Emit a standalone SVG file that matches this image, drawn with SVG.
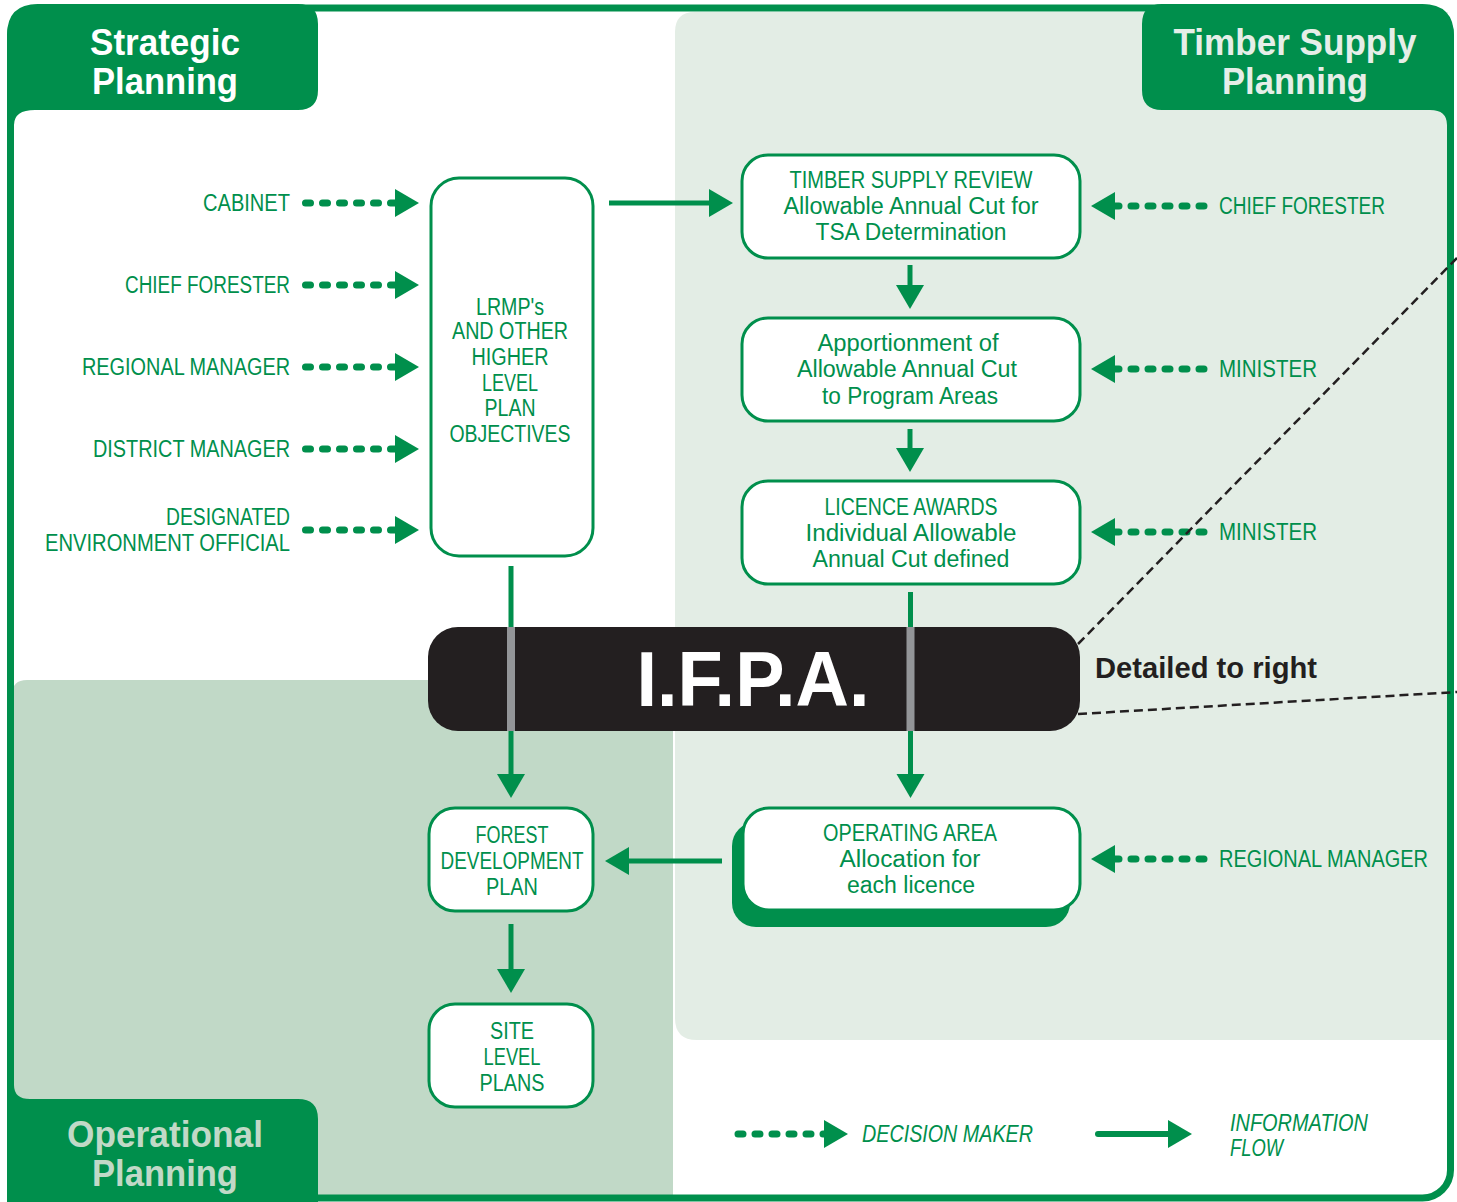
<svg xmlns="http://www.w3.org/2000/svg" width="1457" height="1202" viewBox="0 0 1457 1202">
<defs>
<style>
.g{fill:#008f4c}
.box{fill:#fff;stroke:#008f4c;stroke-width:3}
.tx{font-family:"Liberation Sans",Arial,sans-serif;font-size:23px;fill:#008f4c}
.c{text-anchor:middle}
.e{text-anchor:end}
.s{text-anchor:start}
.it{font-style:italic}
.tab{font-family:"Liberation Sans",Arial,sans-serif;font-size:37px;font-weight:bold;text-anchor:middle}
.dot{fill:none;stroke:#008f4c;stroke-width:7;stroke-linecap:round;stroke-dasharray:5 12}
.sol{fill:none;stroke:#008f4c;stroke-width:5}
.grey{stroke:#939598;stroke-width:8}
.dash{fill:none;stroke:#231f20;stroke-width:2.5;stroke-dasharray:9 5}
</style>
<marker id="ah" markerUnits="userSpaceOnUse" markerWidth="24" markerHeight="28" refX="0" refY="14" orient="auto" overflow="visible">
<path d="M0,0 L24,14 L0,28 z" fill="#008f4c"/>
</marker>
</defs>
<rect width="1457" height="1202" fill="#fff"/>
<!-- regions -->
<g id="regions">
<path d="M695,12 H1448 V1040 H697 Q675,1040 675,1018 V32 Q675,12 695,12 Z" fill="#e3ede5"/>
<path d="M12,695 Q12,680 27,680 H673 V1199 H12 Z" fill="#c1d9c7"/>
</g>
<!-- frame -->
<rect x="10.5" y="8" width="1440" height="1190" rx="28" fill="none" stroke="#008f4c" stroke-width="7"/>
<!-- tabs -->
<g id="tab-strategic">
<path d="M7,35 Q7,4 38,4 H298 Q318,4 318,24 V90 Q318,110 298,110 H35 Q14,110 14,125 H7 Z" class="g"/>
<text class="tab" x="165" y="55" fill="#fff" textLength="150" lengthAdjust="spacingAndGlyphs">Strategic</text>
<text class="tab" x="165" y="94" fill="#fff" textLength="146" lengthAdjust="spacingAndGlyphs">Planning</text>
</g>
<g id="tab-timber">
<path d="M1162,4 H1422 Q1454,4 1454,36 V125 H1447 Q1447,110 1430,110 H1162 Q1142,110 1142,90 V24 Q1142,4 1162,4 Z" class="g"/>
<text class="tab" x="1295" y="55" fill="#e6eee8" textLength="243" lengthAdjust="spacingAndGlyphs">Timber Supply</text>
<text class="tab" x="1295" y="94" fill="#e6eee8" textLength="146" lengthAdjust="spacingAndGlyphs">Planning</text>
</g>
<g id="tab-operational">
<path d="M7,1085 H14 Q14,1099 30,1099 H298 Q318,1099 318,1119 V1202 H7 Z" class="g"/>
<text class="tab" x="165" y="1147" fill="#c1d9c7" textLength="196" lengthAdjust="spacingAndGlyphs">Operational</text>
<text class="tab" x="165" y="1186" fill="#c1d9c7" textLength="146" lengthAdjust="spacingAndGlyphs">Planning</text>
</g>
<!-- IFPA -->
<g id="ifpa">
<rect x="428" y="627" width="652" height="104" rx="30" fill="#231f20"/>
<text x="753" y="706" font-family="'Liberation Sans',Arial,sans-serif" font-size="78" font-weight="bold" fill="#fff" text-anchor="middle" textLength="233" lengthAdjust="spacingAndGlyphs">I.F.P.A.</text>
</g>
<!-- connectors -->
<g id="connectors">
<line class="sol" x1="609" y1="203" x2="709" y2="203" marker-end="url(#ah)"/>
<line class="sol" x1="910" y1="265" x2="910" y2="285" marker-end="url(#ah)"/>
<line class="sol" x1="910" y1="429" x2="910" y2="448" marker-end="url(#ah)"/>
<line class="sol" x1="910.5" y1="592" x2="910.5" y2="774" marker-end="url(#ah)"/>
<line class="sol" x1="511" y1="566" x2="511" y2="774" marker-end="url(#ah)"/>
<line class="sol" x1="722" y1="861" x2="629" y2="861" marker-end="url(#ah)"/>
<line class="sol" x1="511" y1="924" x2="511" y2="969" marker-end="url(#ah)"/>
<line class="grey" x1="511" y1="627" x2="511" y2="731"/>
<line class="grey" x1="910.5" y1="627" x2="910.5" y2="731"/>
<line class="dot" x1="305.5" y1="203" x2="395" y2="203" marker-end="url(#ah)"/>
<line class="dot" x1="305.5" y1="285" x2="395" y2="285" marker-end="url(#ah)"/>
<line class="dot" x1="305.5" y1="367" x2="395" y2="367" marker-end="url(#ah)"/>
<line class="dot" x1="305.5" y1="449" x2="395" y2="449" marker-end="url(#ah)"/>
<line class="dot" x1="305.5" y1="530" x2="395" y2="530" marker-end="url(#ah)"/>
<line class="dot" x1="1204" y1="206" x2="1115" y2="206" marker-end="url(#ah)"/>
<line class="dot" x1="1204" y1="369" x2="1115" y2="369" marker-end="url(#ah)"/>
<line class="dot" x1="1204" y1="532" x2="1115" y2="532" marker-end="url(#ah)"/>
<line class="dot" x1="1204" y1="859" x2="1115" y2="859" marker-end="url(#ah)"/>
<line class="dash" x1="1078" y1="644" x2="1457" y2="258"/>
<line class="dash" x1="1078" y1="714" x2="1457" y2="692"/>
</g>
<!-- decision makers -->
<g id="decision-makers">
<text class="tx e" x="290" y="211" textLength="87" lengthAdjust="spacingAndGlyphs">CABINET</text>
<text class="tx e" x="290" y="293" textLength="165" lengthAdjust="spacingAndGlyphs">CHIEF FORESTER</text>
<text class="tx e" x="290" y="375" textLength="208" lengthAdjust="spacingAndGlyphs">REGIONAL MANAGER</text>
<text class="tx e" x="290" y="457" textLength="197" lengthAdjust="spacingAndGlyphs">DISTRICT MANAGER</text>
<text class="tx e" x="290" y="525" textLength="124" lengthAdjust="spacingAndGlyphs">DESIGNATED</text>
<text class="tx e" x="290" y="551" textLength="245" lengthAdjust="spacingAndGlyphs">ENVIRONMENT OFFICIAL</text>
<text class="tx s" x="1219" y="214" textLength="166" lengthAdjust="spacingAndGlyphs">CHIEF FORESTER</text>
<text class="tx s" x="1219" y="377" textLength="98" lengthAdjust="spacingAndGlyphs">MINISTER</text>
<text class="tx s" x="1219" y="540" textLength="98" lengthAdjust="spacingAndGlyphs">MINISTER</text>
<text class="tx s" x="1219" y="867" textLength="209" lengthAdjust="spacingAndGlyphs">REGIONAL MANAGER</text>
</g>
<!-- nodes -->
<g id="lrmp">
<rect class="box" x="431" y="178" width="162" height="378" rx="28"/>
<text class="tx c" x="510" y="315" textLength="68" lengthAdjust="spacingAndGlyphs">LRMP's</text>
<text class="tx c" x="510" y="339" textLength="116" lengthAdjust="spacingAndGlyphs">AND OTHER</text>
<text class="tx c" x="510" y="365" textLength="77" lengthAdjust="spacingAndGlyphs">HIGHER</text>
<text class="tx c" x="510" y="391" textLength="56" lengthAdjust="spacingAndGlyphs">LEVEL</text>
<text class="tx c" x="510" y="416" textLength="51" lengthAdjust="spacingAndGlyphs">PLAN</text>
<text class="tx c" x="510" y="442" textLength="121" lengthAdjust="spacingAndGlyphs">OBJECTIVES</text>
</g>
<g id="tsr">
<rect class="box" x="742" y="155" width="338" height="103" rx="26"/>
<text class="tx c" x="911" y="188" textLength="243" lengthAdjust="spacingAndGlyphs">TIMBER SUPPLY REVIEW</text>
<text class="tx c" x="911" y="214" textLength="255" lengthAdjust="spacingAndGlyphs">Allowable Annual Cut for</text>
<text class="tx c" x="911" y="240" textLength="191" lengthAdjust="spacingAndGlyphs">TSA Determination</text>
</g>
<g id="apportionment">
<rect class="box" x="742" y="318" width="338" height="103" rx="26"/>
<text class="tx c" x="908" y="351" textLength="181" lengthAdjust="spacingAndGlyphs">Apportionment of</text>
<text class="tx c" x="907" y="377" textLength="220" lengthAdjust="spacingAndGlyphs">Allowable Annual Cut</text>
<text class="tx c" x="910" y="404" textLength="176" lengthAdjust="spacingAndGlyphs">to Program Areas</text>
</g>
<g id="licence">
<rect class="box" x="742" y="481" width="338" height="103" rx="26"/>
<text class="tx c" x="911" y="515" textLength="173" lengthAdjust="spacingAndGlyphs">LICENCE AWARDS</text>
<text class="tx c" x="911" y="541" textLength="211" lengthAdjust="spacingAndGlyphs">Individual Allowable</text>
<text class="tx c" x="911" y="567" textLength="197" lengthAdjust="spacingAndGlyphs">Annual Cut defined</text>
</g>
<g id="operating-area">
<rect x="732" y="822" width="338" height="105" rx="24" class="g"/>
<rect class="box" x="743" y="808" width="337" height="102" rx="26"/>
<text class="tx c" x="910" y="841" textLength="174" lengthAdjust="spacingAndGlyphs">OPERATING AREA</text>
<text class="tx c" x="910" y="867" textLength="141" lengthAdjust="spacingAndGlyphs">Allocation for</text>
<text class="tx c" x="911" y="893" textLength="128" lengthAdjust="spacingAndGlyphs">each licence</text>
</g>
<g id="fdp">
<rect class="box" x="429" y="808" width="164" height="103" rx="26"/>
<text class="tx c" x="512" y="843" textLength="73" lengthAdjust="spacingAndGlyphs">FOREST</text>
<text class="tx c" x="512" y="869" textLength="143" lengthAdjust="spacingAndGlyphs">DEVELOPMENT</text>
<text class="tx c" x="512" y="895" textLength="52" lengthAdjust="spacingAndGlyphs">PLAN</text>
</g>
<g id="site">
<rect class="box" x="429" y="1004" width="164" height="103" rx="26"/>
<text class="tx c" x="512" y="1039" textLength="44" lengthAdjust="spacingAndGlyphs">SITE</text>
<text class="tx c" x="512" y="1065" textLength="57" lengthAdjust="spacingAndGlyphs">LEVEL</text>
<text class="tx c" x="512" y="1091" textLength="65" lengthAdjust="spacingAndGlyphs">PLANS</text>
</g>
<g id="detail-label">
<text x="1095" y="678" font-family="'Liberation Sans',Arial,sans-serif" font-size="29" font-weight="bold" fill="#231f20" textLength="222" lengthAdjust="spacingAndGlyphs">Detailed to right</text>
</g>
<!-- legend -->
<g id="legend">
<line class="dot" x1="738" y1="1134" x2="824" y2="1134" marker-end="url(#ah)"/>
<text class="tx s it" x="862" y="1142" textLength="171" lengthAdjust="spacingAndGlyphs">DECISION MAKER</text>
<line x1="1098" y1="1134" x2="1168" y2="1134" stroke="#008f4c" stroke-width="6" stroke-linecap="round" marker-end="url(#ah)"/>
<text class="tx s it" x="1230" y="1131" textLength="138" lengthAdjust="spacingAndGlyphs">INFORMATION</text>
<text class="tx s it" x="1230" y="1156" textLength="53" lengthAdjust="spacingAndGlyphs">FLOW</text>
</g>
</svg>
